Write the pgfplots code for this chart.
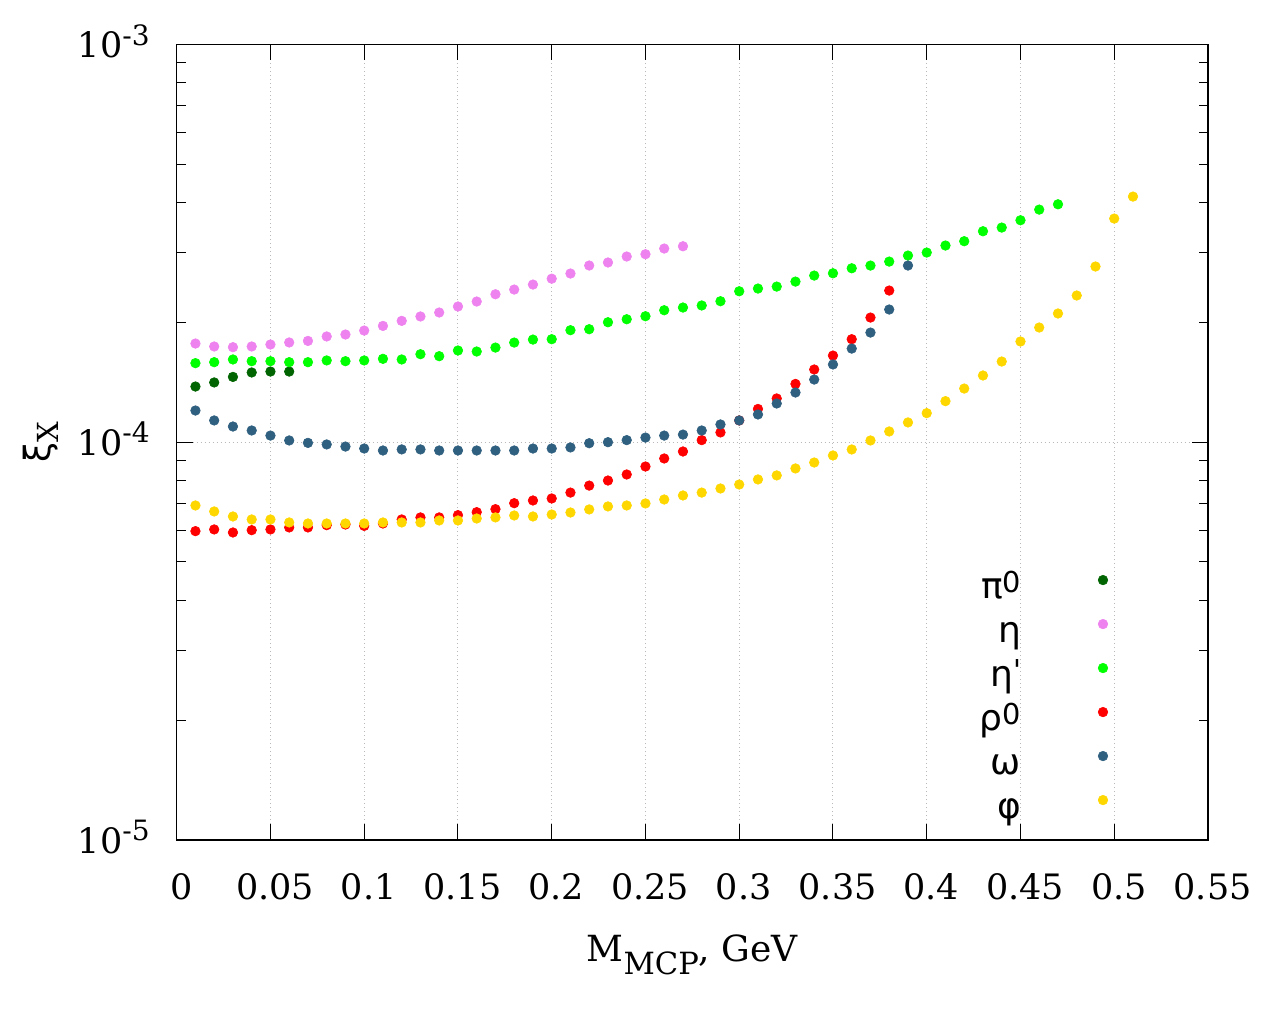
\documentclass[border=0pt]{standalone}
\usepackage{fontspec}
\setmainfont{DejaVu Serif}
\newfontfamily\gr{DejaVu Sans}
\usepackage{pgfplots}
\pgfplotsset{compat=1.18}
\definecolor{cpi}{HTML}{006400}
\definecolor{ceta}{HTML}{EE82EE}
\definecolor{cetap}{HTML}{00FF00}
\definecolor{crho}{HTML}{FF0000}
\definecolor{comega}{HTML}{306080}
\definecolor{cphi}{HTML}{FFD700}
\newcommand\tfont{\fontsize{17.5}{21}\selectfont}
\newcommand\supf{\fontsize{14}{14}\selectfont}
\newcommand\tenp[1]{10\raisebox{6.3pt}{\supf -#1}}
\newcommand\legf{\fontsize{18}{22}\selectfont\gr}
\newcommand\lsup[1]{\raisebox{3pt}{\fontsize{14.4}{14}\selectfont #1}}
\newcommand\lent[1]{\rule[-4.5pt]{0pt}{24pt}#1}
\begin{document}
\begin{tikzpicture}
\useasboundingbox (-88.35pt,-92pt) rectangle (551.65pt,420pt);
\begin{axis}[
  at={(0pt,0pt)}, anchor=south west,
  scale only axis, width=515.65pt, height=397.85pt,
  xmin=0, xmax=0.55, ymin=1e-5, ymax=1e-3, ymode=log,
  xtick={0,0.05,0.1,0.15,0.2,0.25,0.3,0.35,0.4,0.45,0.5,0.55},
  xticklabels={0,0.05,0.1,0.15,0.2,0.25,0.3,0.35,0.4,0.45,0.5,0.55},
  ytick={1e-5,1e-4,1e-3},
  yticklabels={\tenp{5},\tenp{4},\tenp{3}},
  minor ytick={2e-5,3e-5,4e-5,5e-5,6e-5,7e-5,8e-5,9e-5,2e-4,3e-4,4e-4,5e-4,6e-4,7e-4,8e-4,9e-4},
  tick align=inside,
  major tick length=8pt, minor tick length=4.5pt,
  tick style={black, line width=0.5pt},
  axis line style={line width=0.6pt},
  xmajorgrids, ymajorgrids,
  major grid style={draw=gray!55, line width=0.5pt, dash pattern=on 0.5pt off 1.5pt},
  xticklabel style={font=\tfont, anchor=base, inner sep=0pt, yshift=-29.5pt, xshift=2.3pt},
  yticklabel style={font=\tfont, anchor=base east, inner sep=0pt, xshift=-13.35pt, yshift=-6.7pt},
  xlabel={M\raisebox{-6.3pt}{\fontsize{15.3}{15}\selectfont MCP}, GeV},
  ylabel={{\gr ξ}\raisebox{-4.3pt}{\fontsize{14.5}{14}\selectfont X}},
  every axis x label/.style={at={(axis description cs:0.5,-0.153)}, anchor=base, font=\fontsize{18}{20}\selectfont, inner sep=0pt},
  every axis y label/.style={at={(axis description cs:-0.1316,0.5)}, rotate=90, anchor=center, font=\fontsize{18}{20}\selectfont, inner sep=0pt},
  legend style={draw=none, fill=none, inner sep=0pt, outer sep=0pt,
    at={(axis description cs:0.9777,0.3531)}, anchor=north east,
    row sep=1pt, column sep=0pt, cells={anchor=east}, font=\legf, nodes={inner sep=0pt}},
  legend plot pos=right,
  legend image code/.code={\path[draw=none,fill=none] (0pt,-6pt) rectangle (82pt,6pt); \draw[mark repeat=2,mark phase=2,#1] plot coordinates {(0pt,0pt)(41pt,0pt)(82pt,0pt)};},
  every axis plot/.append style={only marks, mark=*, mark size=2.4pt, line width=0.3pt},
]
\addplot[color=cpi] coordinates {(0.01,1.38e-4)(0.02,1.413e-4)(0.03,1.459e-4)(0.04,1.497e-4)(0.05,1.505e-4)(0.06,1.505e-4)};
\addlegendentry{\lent{π\lsup{0}}}
\addplot[color=ceta] coordinates {(0.01,1.77e-4)(0.02,1.74e-4)(0.03,1.733e-4)(0.04,1.74e-4)(0.05,1.76e-4)(0.06,1.781e-4)(0.07,1.797e-4)(0.08,1.844e-4)(0.09,1.865e-4)(0.10,1.908e-4)(0.11,1.96e-4)(0.12,2.018e-4)(0.13,2.07e-4)(0.14,2.118e-4)(0.15,2.193e-4)(0.16,2.257e-4)(0.17,2.354e-4)(0.18,2.419e-4)(0.19,2.49e-4)(0.20,2.576e-4)(0.21,2.654e-4)(0.22,2.78e-4)(0.23,2.829e-4)(0.24,2.929e-4)(0.25,2.968e-4)(0.26,3.067e-4)(0.27,3.108e-4)};
\addlegendentry{\lent{η}}
\addplot[color=cetap] coordinates {(0.01,1.58e-4)(0.02,1.589e-4)(0.03,1.614e-4)(0.04,1.598e-4)(0.05,1.598e-4)(0.06,1.589e-4)(0.07,1.589e-4)(0.08,1.605e-4)(0.09,1.598e-4)(0.10,1.605e-4)(0.11,1.62e-4)(0.12,1.614e-4)(0.13,1.664e-4)(0.14,1.645e-4)(0.15,1.70e-4)(0.16,1.69e-4)(0.17,1.729e-4)(0.18,1.78e-4)(0.19,1.811e-4)(0.20,1.815e-4)(0.21,1.912e-4)(0.22,1.923e-4)(0.23,2.002e-4)(0.24,2.037e-4)(0.25,2.073e-4)(0.26,2.146e-4)(0.27,2.18e-4)(0.28,2.206e-4)(0.29,2.261e-4)(0.30,2.395e-4)(0.31,2.433e-4)(0.32,2.461e-4)(0.33,2.533e-4)(0.34,2.623e-4)(0.35,2.658e-4)(0.36,2.736e-4)(0.37,2.779e-4)(0.38,2.844e-4)(0.39,2.945e-4)(0.40,2.997e-4)(0.41,3.121e-4)(0.42,3.2e-4)(0.43,3.39e-4)(0.44,3.463e-4)(0.45,3.613e-4)(0.46,3.843e-4)(0.47,3.963e-4)};
\addlegendentry{\lent{η\lsup{'}}}
\addplot[color=crho] coordinates {(0.01,5.976e-5)(0.02,6.035e-5)(0.03,5.93e-5)(0.04,6.01e-5)(0.05,6.035e-5)(0.06,6.105e-5)(0.07,6.105e-5)(0.08,6.187e-5)(0.09,6.21e-5)(0.10,6.16e-5)(0.11,6.247e-5)(0.12,6.394e-5)(0.13,6.47e-5)(0.14,6.47e-5)(0.15,6.556e-5)(0.16,6.67e-5)(0.17,6.787e-5)(0.18,7.026e-5)(0.19,7.137e-5)(0.20,7.22e-5)(0.21,7.47e-5)(0.22,7.78e-5)(0.23,8.01e-5)(0.24,8.295e-5)(0.25,8.687e-5)(0.26,9.1e-5)(0.27,9.475e-5)(0.28,1.012e-4)(0.29,1.058e-4)(0.30,1.134e-4)(0.31,1.212e-4)(0.32,1.288e-4)(0.33,1.401e-4)(0.34,1.523e-4)(0.35,1.651e-4)(0.36,1.815e-4)(0.37,2.057e-4)(0.38,2.405e-4)};
\addlegendentry{\lent{ρ\lsup{0}}}
\addplot[color=comega] coordinates {(0.01,1.201e-4)(0.02,1.134e-4)(0.03,1.095e-4)(0.04,1.07e-4)(0.05,1.039e-4)(0.06,1.01e-4)(0.07,0.996e-4)(0.08,0.987e-4)(0.09,0.975e-4)(0.10,0.964e-4)(0.11,0.953e-4)(0.12,0.959e-4)(0.13,0.959e-4)(0.14,0.953e-4)(0.15,0.953e-4)(0.16,0.953e-4)(0.17,0.953e-4)(0.18,0.953e-4)(0.19,0.964e-4)(0.20,0.964e-4)(0.21,0.97e-4)(0.22,0.994e-4)(0.23,1.0e-4)(0.24,1.012e-4)(0.25,1.027e-4)(0.26,1.039e-4)(0.27,1.045e-4)(0.28,1.07e-4)(0.29,1.108e-4)(0.30,1.134e-4)(0.31,1.174e-4)(0.32,1.251e-4)(0.33,1.333e-4)(0.34,1.437e-4)(0.35,1.568e-4)(0.36,1.719e-4)(0.37,1.886e-4)(0.38,2.155e-4)(0.39,2.78e-4)};
\addlegendentry{\lent{ω}}
\addplot[color=cphi] coordinates {(0.01,6.934e-5)(0.02,6.697e-5)(0.03,6.506e-5)(0.04,6.394e-5)(0.05,6.394e-5)(0.06,6.284e-5)(0.07,6.247e-5)(0.08,6.247e-5)(0.09,6.247e-5)(0.10,6.247e-5)(0.11,6.284e-5)(0.12,6.284e-5)(0.13,6.284e-5)(0.14,6.357e-5)(0.15,6.357e-5)(0.16,6.43e-5)(0.17,6.47e-5)(0.18,6.543e-5)(0.19,6.506e-5)(0.20,6.58e-5)(0.21,6.657e-5)(0.22,6.776e-5)(0.23,6.895e-5)(0.24,6.934e-5)(0.25,7.015e-5)(0.26,7.178e-5)(0.27,7.347e-5)(0.28,7.47e-5)(0.29,7.65e-5)(0.30,7.828e-5)(0.31,8.06e-5)(0.32,8.25e-5)(0.33,8.59e-5)(0.34,8.89e-5)(0.35,9.26e-5)(0.36,9.587e-5)(0.37,1.01e-4)(0.38,1.064e-4)(0.39,1.121e-4)(0.40,1.183e-4)(0.41,1.268e-4)(0.42,1.364e-4)(0.43,1.471e-4)(0.44,1.595e-4)(0.45,1.791e-4)(0.46,1.942e-4)(0.47,2.106e-4)(0.48,2.337e-4)(0.49,2.764e-4)(0.50,3.648e-4)(0.51,4.143e-4)};
\addlegendentry{\lent{φ}}
\end{axis}
\end{tikzpicture}
\end{document}
